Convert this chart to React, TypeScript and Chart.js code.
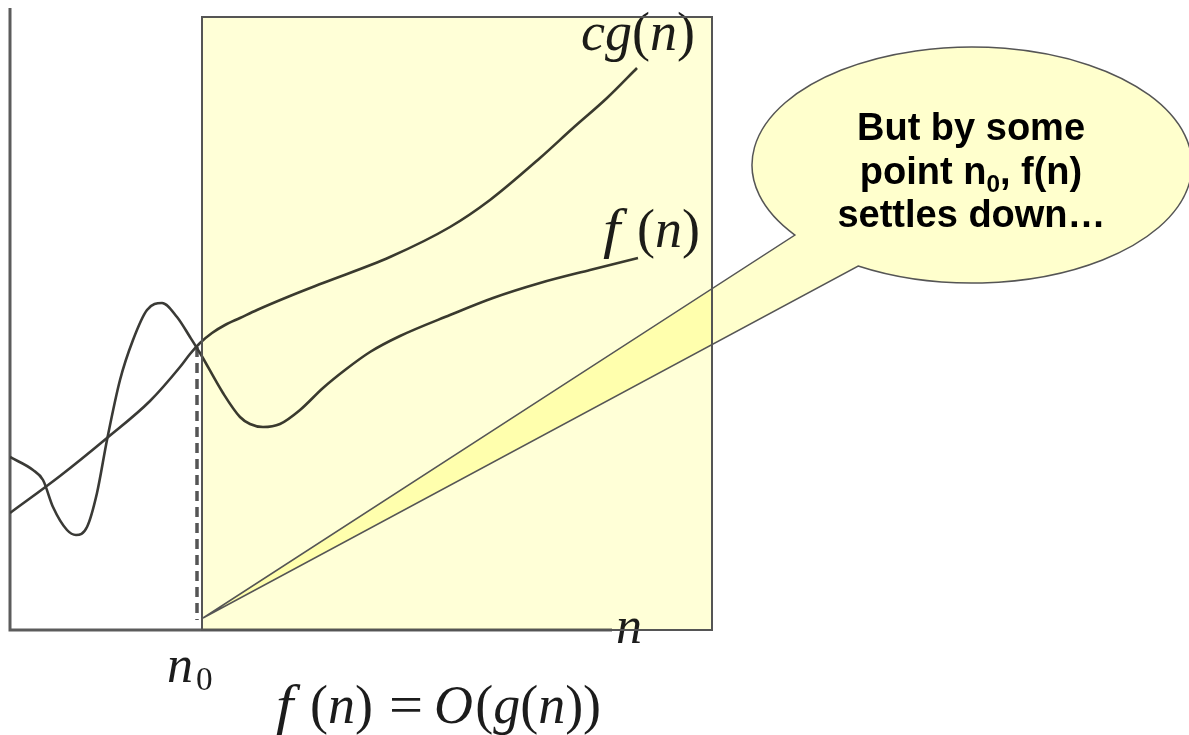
import { useEffect, useRef } from "react";
import { Chart, registerables } from "chart.js";

Chart.register(...registerables);

// c·g(n): sample positions along n and the curve's height
const cgN = [0, 5.0, 9.7, 14.0, 17.0, 18.0, 19.0, 20.2, 21.5, 23.0, 24.7, 28.0, 31.3, 38.0, 44.0, 48.0, 53.0, 56.3, 59.7, 62.7];
const cgVal = [11.7, 15.4, 19.2, 22.9, 26.3, 27.6, 28.7, 29.7, 30.5, 31.2, 32.0, 33.4, 34.7, 37.3, 40.3, 43.0, 47.2, 50.2, 53.2, 56.2];

// f(n): sample positions along n and the curve's height
const fN = [0, 2.3, 3.3, 4.3, 5.7, 6.6, 7.7, 8.7, 9.7, 11.0, 12.3, 13.7, 15.2, 16.7, 18.0, 19.0, 21.3, 23.0, 24.0, 25.3, 27.0, 29.0, 31.3, 33.5, 36.0, 39.0, 44.0, 48.3, 53.0, 58.0, 62.8];
const fVal = [17.3, 16.0, 15.0, 12.3, 10.0, 9.5, 10.3, 13.7, 19.0, 25.0, 29.0, 32.0, 32.7, 31.3, 29.3, 27.7, 23.7, 21.3, 20.6, 20.3, 20.6, 22.0, 24.2, 26.0, 27.8, 29.4, 31.5, 33.2, 34.7, 36.0, 37.2];

// axis extents
const N_MAX = 70.2;
const V_MAX = 62.2;
const AXIS_N_END = 60.2;

// threshold n0 and the shaded region beyond it
const N0 = 18.7;
const N0_MARK_TOP = 28.3;
const REGION_N = [19.2, 70.2];
const REGION_TOP = 61.3;

// speech bubble (in plot units)
const BUBBLE_CENTER = [96.2, 46.5];
const BUBBLE_RADII = [22.0, 11.8];
const TAIL_TIP = [19.3, 1.2];
const TAIL_BASE = [
  [78.5, 39.5],
  [84.7, 36.3],
];

// text runs: it = italic, sub = subscript, sx = horizontal stretch,
// gap = extra space after (em), ink = advance measured from the glyph's ink edge
type Tok = { t: string; it?: boolean; sub?: boolean; sx?: number; gap?: number; ink?: boolean };

const bubbleLines: Tok[][] = [
  [{ t: "But by some" }],
  [{ t: "point n" }, { t: "0", sub: true }, { t: ", f(n)" }],
  [{ t: "settles down…" }],
];
const bubbleBaselines = [49.0, 44.6, 40.3];

const cgLabel: Tok[] = [{ t: "c", it: true }, { t: "g", it: true }, { t: "(" }, { t: "n", it: true }, { t: ")" }];
const fLabel: Tok[] = [{ t: "f", it: true, sx: 1.15, ink: true, gap: 0.16 }, { t: "(" }, { t: "n", it: true }, { t: ")" }];
const nLabel: Tok[] = [{ t: "n", it: true }];
const n0Label: Tok[] = [{ t: "n", it: true, gap: 0.06 }, { t: "0", sub: true }];
const bigOLabel: Tok[] = [
  { t: "f", it: true, sx: 1.15, ink: true, gap: 0.16 },
  { t: "(" },
  { t: "n", it: true },
  { t: ")", gap: 0.3 },
  { t: "=", sx: 1.12, gap: 0.2 },
  { t: "O", it: true, gap: 0.04 },
  { t: "(" },
  { t: "g", it: true },
  { t: "(" },
  { t: "n", it: true },
  { t: ")" },
  { t: ")" },
];

const SERIF = '"Liberation Serif", "DejaVu Serif", serif';
const SANS = '"Liberation Sans", Arial, sans-serif';

function fontFor(k: Tok, size: number, family: string, weight: string, subScale: number) {
  const s = k.sub ? size * subScale : size;
  return `${k.it ? "italic " : ""}${weight} ${s}px ${family}`;
}

// draws (or only measures) a run of tokens; x is the ink-left edge of the first glyph
function runTokens(
  ctx: CanvasRenderingContext2D,
  toks: Tok[],
  x: number,
  y: number,
  size: number,
  family: string,
  weight: string,
  subScale: number,
  subDrop: number,
  draw: boolean
) {
  ctx.font = fontFor(toks[0], size, family, weight, subScale);
  const lead = ctx.measureText(toks[0].t).actualBoundingBoxLeft * (toks[0].sx || 1);
  let cx = x + lead;
  for (const k of toks) {
    ctx.font = fontFor(k, size, family, weight, subScale);
    const sx = k.sx || 1;
    const m = ctx.measureText(k.t);
    if (draw) {
      ctx.save();
      ctx.translate(cx, y + (k.sub ? size * subDrop : 0));
      ctx.scale(sx, 1);
      ctx.fillText(k.t, 0, 0);
      ctx.restore();
    }
    const adv = k.ink ? m.actualBoundingBoxRight : m.width;
    cx += adv * sx + (k.gap || 0) * size;
  }
  return cx - x;
}

const overlay = {
  id: "overlay",
  beforeDatasetsDraw(chart: any) {
    const { ctx } = chart;
    const X = (v: number) => chart.scales.x.getPixelForValue(v);
    const Y = (v: number) => chart.scales.y.getPixelForValue(v);
    ctx.save();
    ctx.strokeStyle = "#5c5c5c";
    ctx.lineWidth = 3;
    ctx.beginPath();
    ctx.moveTo(X(0), Y(V_MAX));
    ctx.lineTo(X(0), Y(0));
    ctx.lineTo(X(AXIS_N_END), Y(0));
    ctx.stroke();

    ctx.setLineDash([10, 6]);
    ctx.strokeStyle = "#555555";
    ctx.lineWidth = 3.5;
    ctx.beginPath();
    ctx.moveTo(X(N0), Y(N0_MARK_TOP));
    ctx.lineTo(X(N0), Y(1));
    ctx.stroke();
    ctx.restore();
  },
  afterDatasetsDraw(chart: any) {
    const { ctx } = chart;
    const X = (v: number) => chart.scales.x.getPixelForValue(v);
    const Y = (v: number) => chart.scales.y.getPixelForValue(v);
    ctx.save();
    ctx.textBaseline = "alphabetic";
    ctx.textAlign = "left";

    // math labels
    ctx.fillStyle = "#1c1c1c";
    runTokens(ctx, cgLabel, X(57.2), Y(58.0), 54, SERIF, "normal", 0.6, 0.25, true);
    runTokens(ctx, fLabel, X(59.3), Y(38.3), 54, SERIF, "normal", 0.6, 0.25, true);
    runTokens(ctx, nLabel, X(60.7), Y(-1.3), 52, SERIF, "normal", 0.6, 0.25, true);
    runTokens(ctx, n0Label, X(15.8), Y(-5.2), 52, SERIF, "normal", 0.64, 0.15, true);
    runTokens(ctx, bigOLabel, X(26.6), Y(-9.3), 54, SERIF, "normal", 0.6, 0.25, true);

    // shaded region beyond n0
    const rx0 = X(REGION_N[0]);
    const rx1 = X(REGION_N[1]);
    const ry0 = Y(REGION_TOP);
    const ry1 = Y(0);
    ctx.globalCompositeOperation = "multiply";
    ctx.fillStyle = "rgb(255,255,215)";
    ctx.fillRect(rx0, ry0, rx1 - rx0, ry1 - ry0);

    // speech bubble with tail
    const cx = X(BUBBLE_CENTER[0]);
    const cy = Y(BUBBLE_CENTER[1]);
    const erx = X(BUBBLE_CENTER[0] + BUBBLE_RADII[0]) - cx;
    const ery = cy - Y(BUBBLE_CENTER[1] + BUBBLE_RADII[1]);
    const ang = (p: number[]) => Math.atan2((Y(p[1]) - cy) / ery, (X(p[0]) - cx) / erx);
    const a1 = ang(TAIL_BASE[0]);
    const a2 = ang(TAIL_BASE[1]);
    ctx.beginPath();
    ctx.moveTo(X(TAIL_TIP[0]), Y(TAIL_TIP[1]));
    ctx.lineTo(cx + erx * Math.cos(a1), cy + ery * Math.sin(a1));
    ctx.ellipse(cx, cy, erx, ery, 0, a1, a2, false);
    ctx.closePath();
    ctx.fillStyle = "rgb(255,255,205)";
    ctx.fill();
    ctx.globalCompositeOperation = "source-over";
    ctx.strokeStyle = "#555555";
    ctx.lineWidth = 1.5;
    ctx.lineJoin = "miter";
    ctx.stroke();

    ctx.strokeStyle = "#555555";
    ctx.lineWidth = 2;
    ctx.strokeRect(rx0, ry0, rx1 - rx0, ry1 - ry0);

    // bubble text
    ctx.fillStyle = "#000000";
    bubbleLines.forEach((line, i) => {
      const w = runTokens(ctx, line, 0, 0, 38, SANS, "bold", 0.64, 0.2, false);
      runTokens(ctx, line, cx - w / 2, Y(bubbleBaselines[i]), 38, SANS, "bold", 0.64, 0.2, true);
    });
    ctx.restore();
  },
};

export default function App() {
  const canvasRef = useRef<HTMLCanvasElement | null>(null);

  useEffect(() => {
    const canvas = canvasRef.current;
    if (!canvas) return;
    const curveStyle = {
      borderColor: "#3a3a36",
      borderWidth: 2.6,
      pointRadius: 0,
      cubicInterpolationMode: "monotone" as const,
      fill: false,
    };
    const chart = new Chart(canvas, {
      type: "line",
      data: {
        datasets: [
          { label: "cg(n)", data: cgN.map((n, i) => ({ x: n, y: cgVal[i] })), ...curveStyle },
          { label: "f(n)", data: fN.map((n, i) => ({ x: n, y: fVal[i] })), ...curveStyle },
        ],
      },
      options: {
        animation: false,
        responsive: false,
        devicePixelRatio: 1,
        layout: { padding: { left: 10, top: 8, right: 477, bottom: 105 } },
        scales: {
          x: { type: "linear", min: 0, max: N_MAX, display: false },
          y: { type: "linear", min: 0, max: V_MAX, display: false },
        },
        plugins: {
          legend: { display: false },
          tooltip: { enabled: false },
          title: { display: false },
        },
        events: [],
      },
      plugins: [overlay],
    });
    return () => chart.destroy();
  }, []);

  return (
    <div style={{ position: "absolute", left: 0, top: 0, width: 1189, height: 735, background: "#ffffff" }}>
      <canvas ref={canvasRef} width={1189} height={735} style={{ display: "block" }} />
    </div>
  );
}
